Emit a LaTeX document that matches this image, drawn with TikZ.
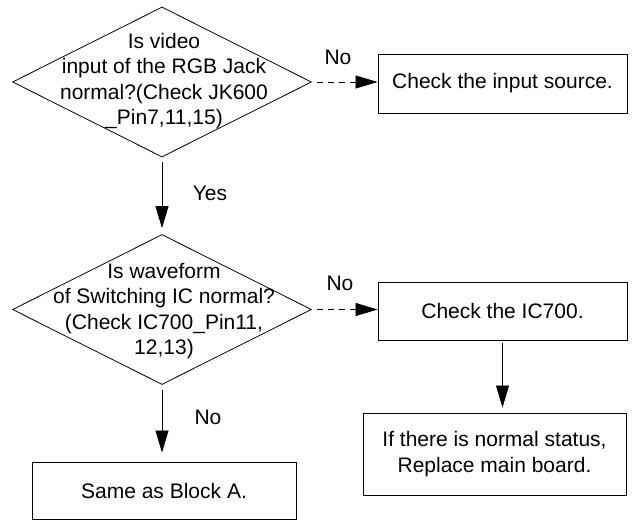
\documentclass[tikz,border=0pt]{standalone}
\usepackage{fontspec}
\setmainfont{Liberation Sans}
\usetikzlibrary{shapes.geometric,arrows.meta}
\begin{document}
\begin{tikzpicture}[x=1pt,y=-1pt,
  every node/.style={font=\fontsize{21}{25.5}\selectfont},
  dia/.style={draw, line width=0.8pt, shape=diamond, inner sep=0pt, minimum width=299pt, minimum height=150pt},
  dtext/.style={align=center, inner sep=0pt},
  box/.style={draw, line width=0.9pt, align=center, inner sep=0pt},
  lbl/.style={inner sep=0pt},
  arr/.style={line width=0.8pt, -{Triangle[length=22pt,width=13pt]}},
  darr/.style={arr, dash pattern=on 6pt off 5pt}]
\useasboundingbox (0,0) rectangle (634,521);

\node[dia] (d1) at (162,82) {};
\node[dtext] (t1) at (164,81) {Is video\\input of the RGB Jack\\normal?(Check JK600\\\_Pin7,11,15)};

\node[dia] (d2) at (162,309.5) {};
\node[dtext] (t2) at (164,311) {Is waveform\\of Switching IC normal?\\(Check IC700\_Pin11,\\12,13)};

\node[box, minimum width=249pt, minimum height=59pt] (b1) at (502.5,83.5) {Check the input source.};
\node[box, minimum width=249pt, minimum height=58pt] (b2) at (502.5,311) {Check the IC700.};
\node[box, minimum width=263pt, minimum height=82pt] (b3) at (494.5,454) {If there is normal status,\\Replace main board.};
\node[box, minimum width=264pt, minimum height=57pt] (b4) at (164,490.5) {Same as Block A.};

\draw[arr, shorten <=5pt, shorten >=6pt] (d1.south) -- (d2.north);
\draw[darr, shorten <=5pt] (d1.east) -- (d1.east -| b1.west);
\draw[darr, shorten <=5pt] (d2.east) -- (d2.east -| b2.west);
\draw[arr, shorten <=3pt, shorten >=5pt] (b2.south) -- (b2.south |- b3.north);
\draw[arr, shorten <=5pt, shorten >=9pt] (d2.south) -- (d2.south |- b4.north);

\node[lbl] (l1) at (338,57) {No};
\node[lbl] (l2) at (210,193) {Yes};
\node[lbl] (l3) at (340,283) {No};
\node[lbl] (l4) at (208,417) {No};
\end{tikzpicture}
\end{document}
